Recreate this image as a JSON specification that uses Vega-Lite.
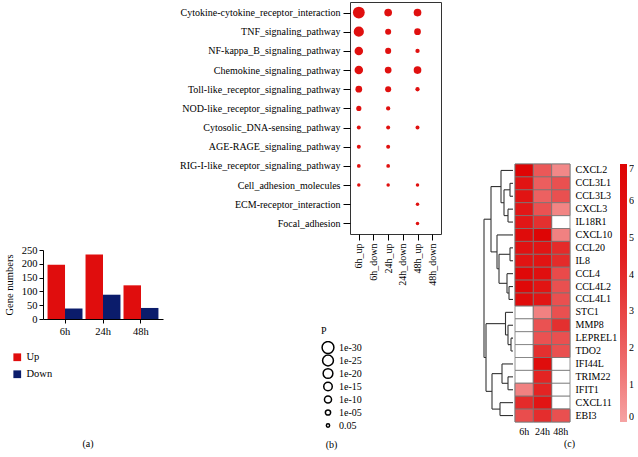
{
  "$schema": "https://vega.github.io/schema/vega-lite/v6.json",
  "background": "white",
  "padding": {"left": 4, "top": 1, "right": 0, "bottom": 0},
  "config": {
    "font": "Liberation Serif",
    "view": {"stroke": null},
    "axis": {"labelFont": "Liberation Serif", "titleFont": "Liberation Serif", "labelColor": "black", "titleColor": "black", "domainColor": "black", "tickColor": "black", "labelFontSize": 10, "titleFontSize": 10, "titleFontWeight": "normal", "grid": false},
    "legend": {"labelFont": "Liberation Serif", "titleFont": "Liberation Serif", "labelFontSize": 10, "titleFontSize": 10, "titleFontWeight": "normal", "labelColor": "black", "titleColor": "black"},
    "title": {"font": "Liberation Serif", "fontSize": 10, "fontWeight": "normal", "color": "black"}
  },
  "datasets": {
    "bars": [
      {"time": "6h", "dir": "Up", "n": 197}, {"time": "6h", "dir": "Down", "n": 38},
      {"time": "24h", "dir": "Up", "n": 234}, {"time": "24h", "dir": "Down", "n": 88},
      {"time": "48h", "dir": "Up", "n": 122}, {"time": "48h", "dir": "Down", "n": 40}
    ],
    "kegg": [
      {"term": "Cytokine-cytokine_receptor_interaction", "sample": "6h_up", "logp": 30},
      {"term": "Cytokine-cytokine_receptor_interaction", "sample": "24h_up", "logp": 12},
      {"term": "Cytokine-cytokine_receptor_interaction", "sample": "48h_up", "logp": 12},
      {"term": "TNF_signaling_pathway", "sample": "6h_up", "logp": 22},
      {"term": "TNF_signaling_pathway", "sample": "24h_up", "logp": 7},
      {"term": "TNF_signaling_pathway", "sample": "48h_up", "logp": 9},
      {"term": "NF-kappa_B_signaling_pathway", "sample": "6h_up", "logp": 15},
      {"term": "NF-kappa_B_signaling_pathway", "sample": "24h_up", "logp": 7},
      {"term": "NF-kappa_B_signaling_pathway", "sample": "48h_up", "logp": 3},
      {"term": "Chemokine_signaling_pathway", "sample": "6h_up", "logp": 15},
      {"term": "Chemokine_signaling_pathway", "sample": "24h_up", "logp": 9},
      {"term": "Chemokine_signaling_pathway", "sample": "48h_up", "logp": 12},
      {"term": "Toll-like_receptor_signaling_pathway", "sample": "6h_up", "logp": 9},
      {"term": "Toll-like_receptor_signaling_pathway", "sample": "24h_up", "logp": 7},
      {"term": "Toll-like_receptor_signaling_pathway", "sample": "48h_up", "logp": 3},
      {"term": "NOD-like_receptor_signaling_pathway", "sample": "6h_up", "logp": 4.8},
      {"term": "NOD-like_receptor_signaling_pathway", "sample": "24h_up", "logp": 3},
      {"term": "Cytosolic_DNA-sensing_pathway", "sample": "6h_up", "logp": 2.4},
      {"term": "Cytosolic_DNA-sensing_pathway", "sample": "24h_up", "logp": 2.4},
      {"term": "Cytosolic_DNA-sensing_pathway", "sample": "48h_up", "logp": 2.4},
      {"term": "AGE-RAGE_signaling_pathway", "sample": "6h_up", "logp": 2.4},
      {"term": "AGE-RAGE_signaling_pathway", "sample": "24h_up", "logp": 2.4},
      {"term": "RIG-I-like_receptor_signaling_pathway", "sample": "6h_up", "logp": 2},
      {"term": "RIG-I-like_receptor_signaling_pathway", "sample": "24h_up", "logp": 2},
      {"term": "Cell_adhesion_molecules", "sample": "6h_up", "logp": 1.6},
      {"term": "Cell_adhesion_molecules", "sample": "24h_up", "logp": 1.6},
      {"term": "Cell_adhesion_molecules", "sample": "48h_up", "logp": 1.6},
      {"term": "ECM-receptor_interaction", "sample": "48h_up", "logp": 1.6},
      {"term": "Focal_adhesion", "sample": "48h_up", "logp": 1.6}
    ],
    "heat": [
      {"gene": "CXCL2", "time": "6h", "v": 6.8}, {"gene": "CXCL2", "time": "24h", "v": 2.3}, {"gene": "CXCL2", "time": "48h", "v": 0.8},
      {"gene": "CCL3L1", "time": "6h", "v": 5.5}, {"gene": "CCL3L1", "time": "24h", "v": 2.1}, {"gene": "CCL3L1", "time": "48h", "v": 2.6},
      {"gene": "CCL3L3", "time": "6h", "v": 5.5}, {"gene": "CCL3L3", "time": "24h", "v": 2.0}, {"gene": "CCL3L3", "time": "48h", "v": 2.6},
      {"gene": "CXCL3", "time": "6h", "v": 5.2}, {"gene": "CXCL3", "time": "24h", "v": 2.5}, {"gene": "CXCL3", "time": "48h", "v": 0.9},
      {"gene": "IL18R1", "time": "6h", "v": 5.2}, {"gene": "IL18R1", "time": "24h", "v": 3.8}, {"gene": "IL18R1", "time": "48h", "v": null},
      {"gene": "CXCL10", "time": "6h", "v": 6.3}, {"gene": "CXCL10", "time": "24h", "v": 6.8}, {"gene": "CXCL10", "time": "48h", "v": 1.0},
      {"gene": "CCL20", "time": "6h", "v": 5.7}, {"gene": "CCL20", "time": "24h", "v": 5.4}, {"gene": "CCL20", "time": "48h", "v": 4.0},
      {"gene": "IL8", "time": "6h", "v": 5.5}, {"gene": "IL8", "time": "24h", "v": 5.5}, {"gene": "IL8", "time": "48h", "v": 4.0},
      {"gene": "CCL4", "time": "6h", "v": 6.6}, {"gene": "CCL4", "time": "24h", "v": 6.0}, {"gene": "CCL4", "time": "48h", "v": 2.8},
      {"gene": "CCL4L2", "time": "6h", "v": 6.6}, {"gene": "CCL4L2", "time": "24h", "v": 5.5}, {"gene": "CCL4L2", "time": "48h", "v": 2.6},
      {"gene": "CCL4L1", "time": "6h", "v": 6.3}, {"gene": "CCL4L1", "time": "24h", "v": 5.4}, {"gene": "CCL4L1", "time": "48h", "v": 2.6},
      {"gene": "STC1", "time": "6h", "v": null}, {"gene": "STC1", "time": "24h", "v": 1.0}, {"gene": "STC1", "time": "48h", "v": 2.6},
      {"gene": "MMP8", "time": "6h", "v": null}, {"gene": "MMP8", "time": "24h", "v": 2.5}, {"gene": "MMP8", "time": "48h", "v": 3.8},
      {"gene": "LEPREL1", "time": "6h", "v": null}, {"gene": "LEPREL1", "time": "24h", "v": 2.5}, {"gene": "LEPREL1", "time": "48h", "v": 2.6},
      {"gene": "TDO2", "time": "6h", "v": null}, {"gene": "TDO2", "time": "24h", "v": 3.8}, {"gene": "TDO2", "time": "48h", "v": 2.6},
      {"gene": "IFI44L", "time": "6h", "v": null}, {"gene": "IFI44L", "time": "24h", "v": 6.2}, {"gene": "IFI44L", "time": "48h", "v": null},
      {"gene": "TRIM22", "time": "6h", "v": null}, {"gene": "TRIM22", "time": "24h", "v": 4.3}, {"gene": "TRIM22", "time": "48h", "v": null},
      {"gene": "IFIT1", "time": "6h", "v": 1.0}, {"gene": "IFIT1", "time": "24h", "v": 4.3}, {"gene": "IFIT1", "time": "48h", "v": null},
      {"gene": "CXCL11", "time": "6h", "v": 4.0}, {"gene": "CXCL11", "time": "24h", "v": 5.4}, {"gene": "CXCL11", "time": "48h", "v": null},
      {"gene": "EBI3", "time": "6h", "v": 2.7}, {"gene": "EBI3", "time": "24h", "v": 3.9}, {"gene": "EBI3", "time": "48h", "v": 2.6}
    ],
    "dendro": [
      {"x": 3, "x2": 3, "y": 1.5, "y2": 2.5}, {"x": 0, "x2": 3, "y": 1.5, "y2": 1.5}, {"x": 0, "x2": 3, "y": 2.5, "y2": 2.5},
      {"x": 5, "x2": 5, "y": 3.5, "y2": 4.5}, {"x": 0, "x2": 5, "y": 3.5, "y2": 3.5}, {"x": 0, "x2": 5, "y": 4.5, "y2": 4.5},
      {"x": 9, "x2": 9, "y": 2, "y2": 4}, {"x": 3, "x2": 9, "y": 2, "y2": 2}, {"x": 5, "x2": 9, "y": 4, "y2": 4},
      {"x": 12, "x2": 12, "y": 0.5, "y2": 3}, {"x": 0, "x2": 12, "y": 0.5, "y2": 0.5}, {"x": 9, "x2": 12, "y": 3, "y2": 3},
      {"x": 3, "x2": 3, "y": 6.5, "y2": 7.5}, {"x": 0, "x2": 3, "y": 6.5, "y2": 6.5}, {"x": 0, "x2": 3, "y": 7.5, "y2": 7.5},
      {"x": 4, "x2": 4, "y": 9.5, "y2": 10.5}, {"x": 0, "x2": 4, "y": 9.5, "y2": 9.5}, {"x": 0, "x2": 4, "y": 10.5, "y2": 10.5},
      {"x": 6, "x2": 6, "y": 8.5, "y2": 10}, {"x": 0, "x2": 6, "y": 8.5, "y2": 8.5}, {"x": 4, "x2": 6, "y": 10, "y2": 10},
      {"x": 14, "x2": 14, "y": 7, "y2": 9.25}, {"x": 3, "x2": 14, "y": 7, "y2": 7}, {"x": 6, "x2": 14, "y": 9.25, "y2": 9.25},
      {"x": 16, "x2": 16, "y": 5.5, "y2": 8.125}, {"x": 0, "x2": 16, "y": 5.5, "y2": 5.5}, {"x": 14, "x2": 16, "y": 8.125, "y2": 8.125},
      {"x": 22, "x2": 22, "y": 1.75, "y2": 6.8125}, {"x": 12, "x2": 22, "y": 1.75, "y2": 1.75}, {"x": 16, "x2": 22, "y": 6.8125, "y2": 6.8125},
      {"x": 2, "x2": 2, "y": 13.5, "y2": 14.5}, {"x": 0, "x2": 2, "y": 13.5, "y2": 13.5}, {"x": 0, "x2": 2, "y": 14.5, "y2": 14.5},
      {"x": 5, "x2": 5, "y": 12.5, "y2": 14}, {"x": 0, "x2": 5, "y": 12.5, "y2": 12.5}, {"x": 2, "x2": 5, "y": 14, "y2": 14},
      {"x": 7.5, "x2": 7.5, "y": 11.5, "y2": 13.25}, {"x": 0, "x2": 7.5, "y": 11.5, "y2": 11.5}, {"x": 5, "x2": 7.5, "y": 13.25, "y2": 13.25},
      {"x": 5, "x2": 5, "y": 16.5, "y2": 17.5}, {"x": 0, "x2": 5, "y": 16.5, "y2": 16.5}, {"x": 0, "x2": 5, "y": 17.5, "y2": 17.5},
      {"x": 11, "x2": 11, "y": 15.5, "y2": 17}, {"x": 0, "x2": 11, "y": 15.5, "y2": 15.5}, {"x": 5, "x2": 11, "y": 17, "y2": 17},
      {"x": 13, "x2": 13, "y": 18.5, "y2": 19.5}, {"x": 0, "x2": 13, "y": 18.5, "y2": 18.5}, {"x": 0, "x2": 13, "y": 19.5, "y2": 19.5},
      {"x": 21, "x2": 21, "y": 16.25, "y2": 19}, {"x": 11, "x2": 21, "y": 16.25, "y2": 16.25}, {"x": 13, "x2": 21, "y": 19, "y2": 19},
      {"x": 27, "x2": 27, "y": 12.375, "y2": 17.625}, {"x": 7.5, "x2": 27, "y": 12.375, "y2": 12.375}, {"x": 21, "x2": 27, "y": 17.625, "y2": 17.625},
      {"x": 29, "x2": 29, "y": 4.28, "y2": 15}, {"x": 22, "x2": 29, "y": 4.28, "y2": 4.28}, {"x": 27, "x2": 29, "y": 15, "y2": 15}
    ]
  },
  "spacing": 15,
  "resolve": {"scale": {"color": "independent", "size": "independent"}, "legend": {"color": "independent", "size": "independent"}},
  "hconcat": [
    {
      "spacing": 0,
      "resolve": {"legend": {"color": "independent"}},
      "vconcat": [
        {"width": 1, "height": 243, "data": {"values": []}, "mark": {"type": "point", "opacity": 0}},
        {
          "width": 120, "height": 69,
          "data": {"name": "bars"},
          "mark": {"type": "bar"},
          "encoding": {
            "x": {"field": "time", "type": "nominal", "sort": ["6h", "24h", "48h"], "scale": {"paddingInner": 0.08, "paddingOuter": 0.12}, "axis": {"title": null, "labelAngle": 0, "tickSize": 4, "labelPadding": 3, "labelFontSize": 10.5}},
            "xOffset": {"field": "dir", "type": "nominal", "sort": ["Up", "Down"]},
            "y": {"field": "n", "type": "quantitative", "scale": {"domain": [0, 250]}, "axis": {"title": "Gene numbers", "values": [0, 50, 100, 150, 200, 250], "tickSize": 4, "titlePadding": 7, "labelFontSize": 10.5, "titleFontSize": 10.5}},
            "color": {"field": "dir", "type": "nominal", "sort": ["Up", "Down"], "scale": {"domain": ["Up", "Down"], "range": ["#e00d0d", "#0b1c6b"]}, "legend": {"title": null, "orient": "none", "legendX": -31, "legendY": 102, "symbolType": "square", "symbolSize": 60, "rowPadding": 6, "symbolStrokeWidth": 0, "labelFontSize": 10.5}}
          },
          "title": {"text": "(a)", "orient": "bottom", "anchor": "middle", "frame": "group", "offset": 59, "dx": -15}
        }
      ]
    },
    {
      "width": 91, "height": 232,
      "view": {"stroke": "#333", "strokeWidth": 1},
      "data": {"name": "kegg"},
      "encoding": {
        "x": {"field": "sample", "type": "nominal", "scale": {"type": "point", "domain": ["6h_up", "6h_down", "24h_up", "24h_down", "48h_up", "48h_down"], "padding": 0.6}, "axis": {"title": null, "labelAngle": -90, "domain": false, "tickSize": 6, "labelPadding": 3}},
        "y": {"field": "term", "type": "nominal", "scale": {"type": "point", "domain": ["Cytokine-cytokine_receptor_interaction", "TNF_signaling_pathway", "NF-kappa_B_signaling_pathway", "Chemokine_signaling_pathway", "Toll-like_receptor_signaling_pathway", "NOD-like_receptor_signaling_pathway", "Cytosolic_DNA-sensing_pathway", "AGE-RAGE_signaling_pathway", "RIG-I-like_receptor_signaling_pathway", "Cell_adhesion_molecules", "ECM-receptor_interaction", "Focal_adhesion"], "padding": 0.55}, "axis": {"title": null, "domain": false, "tickSize": 7, "labelPadding": 3}},
        "size": {"field": "logp", "type": "quantitative", "scale": {"domain": [0, 30], "range": [5, 140]}, "legend": {"title": "P", "orient": "none", "legendX": -29, "legendY": 324, "values": [30, 25, 20, 15, 10, 5, 1.301], "labelExpr": "datum.value == 30 ? '1e-30' : datum.value == 25 ? '1e-25' : datum.value == 20 ? '1e-20' : datum.value == 15 ? '1e-15' : datum.value == 10 ? '1e-10' : datum.value == 5 ? '1e-05' : '0.05'", "symbolType": "circle", "rowPadding": 0, "clipHeight": 13, "titlePadding": 5}}
      },
      "layer": [
        {
          "transform": [{"filter": "datum.logp > 1000"}],
          "mark": {"type": "point", "filled": false, "color": "black", "strokeWidth": 1, "opacity": 1}
        },
        {
          "mark": {"type": "circle", "color": "#e0100f", "opacity": 1}
        }
      ],
      "title": {"text": "(b)", "orient": "bottom", "anchor": "middle", "frame": "group", "offset": 8, "dx": -64}
    },
    {
      "spacing": 0,
      "resolve": {"legend": {"color": "independent"}},
      "vconcat": [
        {"width": 1, "height": 161, "data": {"values": []}, "mark": {"type": "point", "opacity": 0}},
        {
          "spacing": 0,
          "resolve": {"legend": {"color": "independent"}},
          "hconcat": [
            {
              "width": 56, "height": 258,
              "data": {"name": "dendro"},
              "mark": {"type": "rule", "color": "#333", "strokeWidth": 1.1},
              "encoding": {
                "x": {"field": "x", "type": "quantitative", "scale": {"domain": [56, 0], "nice": false, "zero": false}, "axis": null},
                "x2": {"field": "x2"},
                "y": {"field": "y", "type": "quantitative", "scale": {"domain": [20, 0], "nice": false, "zero": false}, "axis": null},
                "y2": {"field": "y2"}
              }
            },
            {
              "width": 55, "height": 258,
              "data": {"name": "heat"},
              "encoding": {
                "x": {"field": "time", "type": "nominal", "sort": ["6h", "24h", "48h"], "scale": {"padding": 0}, "axis": {"title": null, "labelAngle": 0, "ticks": false, "domain": false, "labelPadding": 4}},
                "y": {"field": "gene", "type": "nominal", "sort": ["CXCL2", "CCL3L1", "CCL3L3", "CXCL3", "IL18R1", "CXCL10", "CCL20", "IL8", "CCL4", "CCL4L2", "CCL4L1", "STC1", "MMP8", "LEPREL1", "TDO2", "IFI44L", "TRIM22", "IFIT1", "CXCL11", "EBI3"], "scale": {"padding": 0}, "axis": {"orient": "right", "title": null, "ticks": false, "domain": false, "labelPadding": 5}}
              },
              "layer": [
                {"mark": {"type": "rect", "fill": "white", "stroke": "#777", "strokeWidth": 0.8}},
                {
                  "transform": [{"filter": "isValid(datum.v)"}],
                  "mark": {"type": "rect", "stroke": "#777", "strokeWidth": 0.8},
                  "encoding": {
                    "color": {"field": "v", "type": "quantitative", "scale": {"domain": [0, 1.4, 2.4, 3.5, 4.6, 7], "range": ["#f5a3a3", "#ef7373", "#ea5555", "#e53636", "#e21b1b", "#de0303"]}, "legend": {"title": null, "values": [0, 1, 2, 3, 4, 5, 6, 7], "gradientLength": 258, "gradientThickness": 7, "gradientStrokeWidth": 0, "offset": 3, "labelOverlap": false}}
                  }
                }
              ],
              "title": {"text": "(c)", "orient": "bottom", "anchor": "middle", "frame": "group", "offset": 3, "dx": 27}
            }
          ]
        }
      ]
    }
  ]
}
